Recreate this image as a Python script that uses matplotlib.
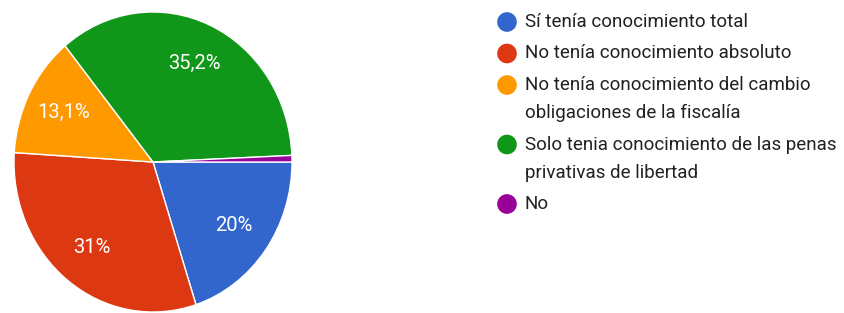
import matplotlib
matplotlib.use("Agg")
import matplotlib.pyplot as plt

plt.rcParams["font.family"] = ["Roboto", "DejaVu Sans"]

# datos de la encuesta (porcentajes)
LABELS = [
    "Sí tenía conocimiento total",
    "No tenía conocimiento absoluto",
    "No tenía conocimiento del cambio\nobligaciones de la fiscalía",
    "Solo tenia conocimiento de las penas\nprivativas de libertad",
    "No",
]
VALUES = [20.0, 31.0, 13.1, 35.2, 0.7]
COLORS = ["#3366cc", "#dc3912", "#ff9900", "#109618", "#990099"]

W, H = 845, 313


def fmt_pct(p):
    if p < 1.5:
        return ""
    p = round(p, 1)
    if abs(p - round(p)) < 0.05:
        return f"{int(round(p))}%"
    return f"{p:.1f}%".replace(".", ",")


fig = plt.figure(figsize=(W / 100, H / 100), dpi=100)
fig.patch.set_facecolor("white")

# pie (ligeramente estirado en vertical, como en la captura)
ax = fig.add_axes([14 / W, 1 / H, 278 / W, 300 / H])
wedges, texts, autotexts = ax.pie(
    VALUES,
    colors=COLORS,
    startangle=0,
    counterclock=False,
    autopct=fmt_pct,
    pctdistance=0.72,
    wedgeprops=dict(edgecolor="white", linewidth=1.0),
    textprops=dict(color="white", fontsize=14.5),
)
ax.set_aspect("auto")
ax.set_xlim(-1, 1)
ax.set_ylim(-1, 1)

# leyenda dibujada a mano (círculos + texto)
lax = fig.add_axes([0, 0, 1, 1])
lax.set_xlim(0, W)
lax.set_ylim(H, 0)
lax.axis("off")

y = 22
for lab, col in zip(LABELS, COLORS):
    lax.scatter([507], [y], s=200, color=col, edgecolors="none")
    lines = lab.split("\n")
    for i, ln in enumerate(lines):
        lax.text(525, y + 28 * i, ln, fontsize=13.5, color="#212121",
                 va="center", ha="left")
    y += 31.5 + 28 * (len(lines) - 1)

fig.savefig("out.png", dpi=100, facecolor="white")
